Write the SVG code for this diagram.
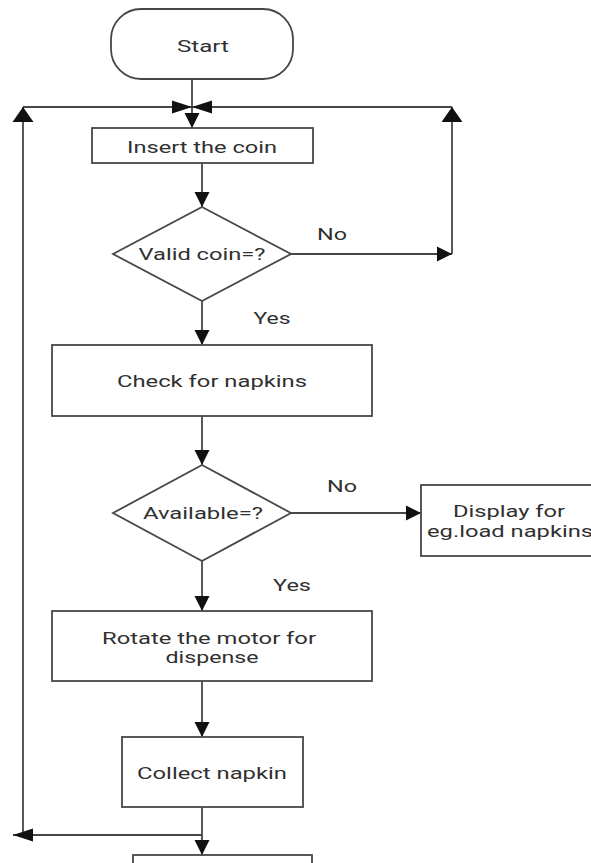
<svg xmlns="http://www.w3.org/2000/svg" width="591" height="863" viewBox="0 0 591 863">
  <style>
    .box { fill: #ffffff; stroke: #474747; stroke-width: 1.8; }
    .lbl { font-family: Roboto, "Liberation Sans", sans-serif; font-size: 17px; fill: #303030; text-anchor: middle; }
    .small { font-size: 16px; }
    .conn { fill: none; stroke: #474747; stroke-width: 1.8; }
  </style>
  <defs>
    <marker id="arr" markerUnits="userSpaceOnUse" markerWidth="16" markerHeight="16" viewBox="0 0 16 16" refX="15" refY="8" orient="auto">
      <path d="M0,0.5 L15,8 L0,15.5 Z" fill="#111111"/>
    </marker>
    <marker id="arrLong" markerUnits="userSpaceOnUse" markerWidth="21" markerHeight="14" viewBox="0 0 21 14" refX="20" refY="7" orient="auto">
      <path d="M0,0.5 L20,7 L0,13.5 Z" fill="#111111"/>
    </marker>
    <marker id="arrWide" markerUnits="userSpaceOnUse" markerWidth="16" markerHeight="22" viewBox="0 0 16 22" refX="15" refY="11" orient="auto">
      <path d="M0,0.5 L15,11 L0,21.5 Z" fill="#111111"/>
    </marker>
  </defs>
  <rect x="0" y="0" width="591" height="863" fill="#ffffff"/>

  <g id="connectors">
    <path class="conn" d="M192,79 V128" marker-end="url(#arr)"/>
    <path class="conn" d="M23,107 H192" marker-end="url(#arrLong)"/>
    <path class="conn" d="M452,107 H192" marker-end="url(#arrLong)"/>
    <path class="conn" d="M23,835 V107" marker-end="url(#arrWide)"/>
    <path class="conn" d="M452,254 V107" marker-end="url(#arrWide)"/>
    <path class="conn" d="M202,163 V207" marker-end="url(#arr)"/>
    <path class="conn" d="M291,254 H452" marker-end="url(#arr)"/>
    <path class="conn" d="M202,301 V345" marker-end="url(#arr)"/>
    <path class="conn" d="M202,416 V465" marker-end="url(#arr)"/>
    <path class="conn" d="M291,513 H421" marker-end="url(#arr)"/>
    <path class="conn" d="M202,561 V611" marker-end="url(#arr)"/>
    <path class="conn" d="M202,681 V737" marker-end="url(#arr)"/>
    <path class="conn" d="M202,807 V855" marker-end="url(#arr)"/>
    <path class="conn" d="M202,835 H13" marker-end="url(#arrLong)"/>
    <text class="lbl" x="332" y="240" textLength="30" lengthAdjust="spacingAndGlyphs">No</text>
    <text class="lbl" x="272" y="324" textLength="37" lengthAdjust="spacingAndGlyphs">Yes</text>
    <text class="lbl" x="342" y="492" textLength="30" lengthAdjust="spacingAndGlyphs">No</text>
    <text class="lbl" x="292" y="591" textLength="38" lengthAdjust="spacingAndGlyphs">Yes</text>
  </g>

  <g id="start">
    <rect class="box" x="111" y="9" width="182" height="70" rx="30" ry="30"/>
    <text class="lbl" x="203" y="52" textLength="52" lengthAdjust="spacingAndGlyphs">Start</text>
  </g>
  <g id="insert-coin">
    <rect class="box" x="92" y="128" width="221" height="35"/>
    <text class="lbl" x="202" y="153" textLength="150" lengthAdjust="spacingAndGlyphs">Insert the coin</text>
  </g>
  <g id="valid-coin">
    <polygon class="box" points="202,207 291,254 202,301 113,254"/>
    <text class="lbl" x="202" y="260" textLength="127" lengthAdjust="spacingAndGlyphs">Valid coin=?</text>
  </g>
  <g id="check-napkins">
    <rect class="box" x="52" y="345" width="320" height="71"/>
    <text class="lbl" x="212" y="387" textLength="190" lengthAdjust="spacingAndGlyphs">Check for napkins</text>
  </g>
  <g id="available">
    <polygon class="box" points="202,465 291,513 202,561 113,513"/>
    <text class="lbl" x="203" y="519" textLength="120" lengthAdjust="spacingAndGlyphs">Available=?</text>
  </g>
  <g id="display">
    <rect class="box" x="421" y="485" width="176" height="71"/>
    <text class="lbl small" x="509" y="517" textLength="112" lengthAdjust="spacingAndGlyphs">Display for</text>
    <text class="lbl small" x="510" y="537" textLength="166" lengthAdjust="spacingAndGlyphs">eg.load napkins</text>
  </g>
  <g id="rotate-motor">
    <rect class="box" x="52" y="611" width="320" height="70"/>
    <text class="lbl" x="209" y="644" textLength="214" lengthAdjust="spacingAndGlyphs">Rotate the motor for</text>
    <text class="lbl" x="212" y="663" textLength="93" lengthAdjust="spacingAndGlyphs">dispense</text>
  </g>
  <g id="collect-napkin">
    <rect class="box" x="122" y="737" width="181" height="70"/>
    <text class="lbl" x="212" y="779" textLength="150" lengthAdjust="spacingAndGlyphs">Collect napkin</text>
  </g>
  <g id="next-step">
    <rect class="box" x="133" y="855" width="179" height="40"/>
  </g>
</svg>
